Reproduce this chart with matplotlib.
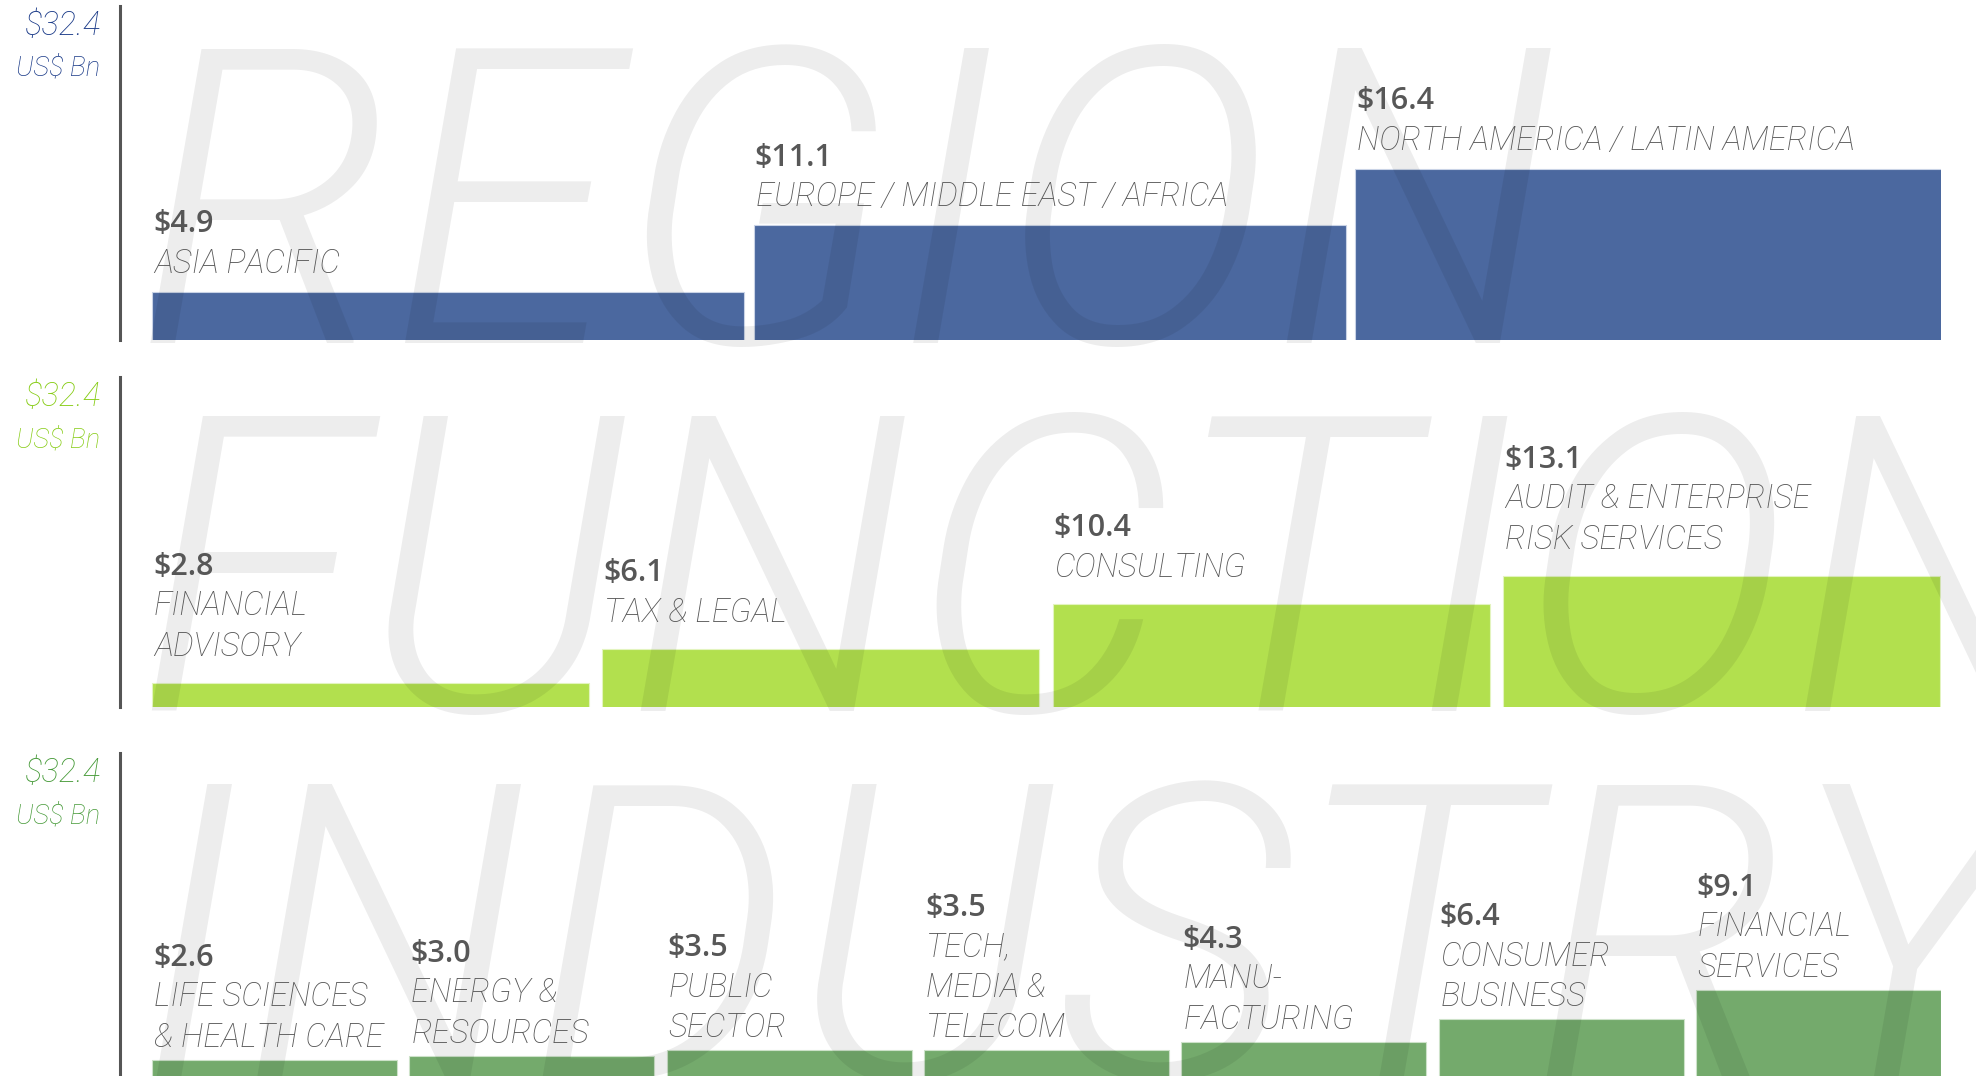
import os
import numpy as np
import matplotlib
matplotlib.use("Agg")
import matplotlib.pyplot as plt
from matplotlib import font_manager as fm

# ---------------- data ----------------
total_value = 32.4
unit_label = "US$ Bn"

panel_titles = ["REGION", "FUNCTION", "INDUSTRY"]

region_cats = ["ASIA PACIFIC", "EUROPE / MIDDLE EAST / AFRICA", "NORTH AMERICA / LATIN AMERICA"]
region_vals = [4.9, 11.1, 16.4]

function_cats = ["FINANCIAL\nADVISORY", "TAX & LEGAL", "CONSULTING", "AUDIT & ENTERPRISE\nRISK SERVICES"]
function_vals = [2.8, 6.1, 10.4, 13.1]

industry_cats = ["LIFE SCIENCES\n& HEALTH CARE", "ENERGY &\nRESOURCES", "PUBLIC\nSECTOR",
                 "TECH,\nMEDIA &\nTELECOM", "MANU-\nFACTURING", "CONSUMER\nBUSINESS",
                 "FINANCIAL\nSERVICES"]
industry_vals = [2.6, 3.0, 3.5, 3.5, 4.3, 6.4, 9.1]


# ---------------- fonts ----------------
def find_font(names):
    files = {os.path.basename(f).lower(): f for f in fm.findSystemFonts()}
    for n in names:
        if n in files:
            return files[n]
    return None


mark_file = find_font(["roboto-lightitalic.ttf", "roboto-light-italic.ttf"])
if mark_file:
    MARK_PROPS = dict(fontproperties=fm.FontProperties(fname=mark_file, size=298))
else:
    MARK_PROPS = dict(family=["Roboto", "DejaVu Sans"], style="italic",
                      weight="light", fontsize=285)

# ---------------- style ----------------
W, H, DPI = 1976, 1076, 100
fig = plt.figure(figsize=(W / DPI, H / DPI), dpi=DPI)
fig.patch.set_facecolor("white")

CAT_FONT = ["Roboto", "DejaVu Sans"]
VAL_FONT = ["Open Sans", "DejaVu Sans"]
TEXT_GRAY = "#575757"
AXIS_GRAY = "#555555"

panels = [
    dict(title=panel_titles[0], cats=region_cats, vals=region_vals,
         color="#4b689f", edge="#c9d3e6", accent="#1a3a88",
         top=6, bottom=340, ylim=(0.4, 31.6), pitch=601.5, width=592, gap=19,
         mark_base=343),
    dict(title=panel_titles[1], cats=function_cats, vals=function_vals,
         color="#b2e04e", edge="#e3f4bf", accent="#86cc14",
         top=377, bottom=707, ylim=(0.48, 32.24), pitch=450.3, width=437, gap=27,
         mark_base=711),
    dict(title=panel_titles[2], cats=industry_cats, vals=industry_vals,
         color="#74aa6c", edge="#cde2c9", accent="#469a38",
         top=753, bottom=1076, ylim=(1.11, 31.1), pitch=257.3, width=245, gap=13,
         mark_base=1079),
]

AX_LEFT_PX, AX_RIGHT_PX, BAR_START_PX = 120, 1941, 152
LINE_PX = 40.5

for p in panels:
    ax = fig.add_axes([AX_LEFT_PX / W, 1 - p["bottom"] / H,
                       (AX_RIGHT_PX - AX_LEFT_PX) / W, (p["bottom"] - p["top"]) / H])
    ax.set_facecolor("none")
    n = len(p["vals"])
    pitch = p["pitch"]
    left = -(BAR_START_PX - AX_LEFT_PX) / pitch
    ax.set_xlim(left, left + (AX_RIGHT_PX - AX_LEFT_PX) / pitch)
    ax.set_ylim(*p["ylim"])
    x = np.arange(n)
    ax.bar(x, p["vals"], width=p["width"] / pitch, align="edge", color=p["color"],
           edgecolor=p["edge"], linewidth=0.8, zorder=1)

    for s in ["top", "right", "bottom"]:
        ax.spines[s].set_visible(False)
    ax.spines["left"].set_color(AXIS_GRAY)
    ax.spines["left"].set_linewidth(2.2)
    ax.set_xticks([])
    ax.set_yticks([])

    # watermark word
    ax.text(136 / W, 1 - p["mark_base"] / H, p["title"], transform=fig.transFigure,
            color="black", alpha=0.07, ha="left", va="baseline", zorder=2,
            clip_on=False, **MARK_PROPS)

    # axis total label
    ax.annotate(f"${total_value:.1f}", xy=(0, 1), xycoords="axes fraction",
                xytext=(-20, -29), textcoords="offset pixels", ha="right", va="baseline",
                family=CAT_FONT, style="italic", weight="light", fontsize=23.5,
                color=p["accent"], zorder=3)
    ax.annotate(unit_label, xy=(0, 1), xycoords="axes fraction",
                xytext=(-20, -70), textcoords="offset pixels", ha="right", va="baseline",
                family=CAT_FONT, style="italic", weight="light", fontsize=19.5,
                color=p["accent"], zorder=3)

    # bar labels
    for xi, v, cat in zip(x, p["vals"], p["cats"]):
        lines = cat.split("\n")
        for k, line in enumerate(reversed(lines)):
            ax.annotate(line, xy=(xi, v), xycoords="data",
                        xytext=(2, p["gap"] + k * LINE_PX), textcoords="offset pixels",
                        ha="left", va="baseline", family=CAT_FONT, style="italic",
                        weight="light", fontsize=23.5, color=TEXT_GRAY, zorder=3,
                        annotation_clip=False)
        ax.annotate(f"${v:.1f}", xy=(xi, v), xycoords="data",
                    xytext=(1, p["gap"] + len(lines) * LINE_PX), textcoords="offset pixels",
                    ha="left", va="baseline", family=VAL_FONT, weight="semibold",
                    fontsize=22, color=TEXT_GRAY, zorder=3, annotation_clip=False)

fig.savefig("out.png", dpi=DPI, facecolor="white")
